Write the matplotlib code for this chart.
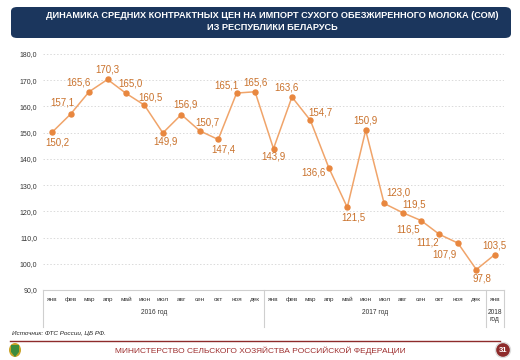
import matplotlib
matplotlib.use("Agg")
import matplotlib.pyplot as plt
from matplotlib.patches import FancyBboxPatch, Polygon, Ellipse
from matplotlib.lines import Line2D
from matplotlib.transforms import blended_transform_factory

plt.rcParams['font.family'] = ['Liberation Sans', 'DejaVu Sans']

months = ["янв", "фев", "мар", "апр", "май", "июн", "июл", "авг", "сен", "окт", "ноя", "дек"]
categories = months + months + ["янв"]
years = ["2016 год", "2017 год", "2018\nгод"]
prices = [150.2, 157.1, 165.6, 170.3, 165.0, 160.5, 149.9, 156.9, 150.7, 147.4, 165.1, 165.6,
          143.9, 163.6, 154.7, 136.6, 121.5, 150.9, 123.0, 119.5, 116.5, 111.2, 107.9, 97.8,
          103.5]
# label offsets in pixels (dx, dy) — placement only
label_offsets = [(5, -10), (-8, 12), (-11, 9), (0, 10), (4, 10), (6, 8), (3, -9), (4, 10),
                 (8, 8), (5, -10), (-10, 8), (0, 9), (0, -8), (-5, 10), (10, 8), (-15, -5),
                 (6, -10), (0, 10), (14, 11), (11, 8), (-13, -9), (-12, -8), (-13, -11),
                 (6, -9), (0, 9)]

W, H = 520, 360
fig = plt.figure(figsize=(W / 100, H / 100), dpi=100)
fig.patch.set_facecolor("white")


def fx(x):
    return x / W


def fy(y):
    return 1 - y / H


# header
hdr = FancyBboxPatch((fx(11), fy(38)), fx(500), (31) / H,
                     boxstyle="round,pad=0,rounding_size=0.012",
                     transform=fig.transFigure, facecolor="#1B365D", edgecolor="none")
fig.patches.append(hdr)
fig.text(fx(272), fy(16), "ДИНАМИКА СРЕДНИХ КОНТРАКТНЫХ ЦЕН НА ИМПОРТ СУХОГО ОБЕЗЖИРЕННОГО МОЛОКА (СОМ)",
         color="white", fontsize=6.6, fontweight="bold", ha="center", va="center")
fig.text(fx(272), fy(28), "ИЗ РЕСПУБЛИКИ БЕЛАРУСЬ",
         color="white", fontsize=6.6, fontweight="bold", ha="center", va="center")

# axes
ax = fig.add_axes([fx(43), fy(290), (504 - 43) / W, (290 - 54) / H])
x = list(range(len(prices)))
line_color = "#F0A46A"
label_color = "#C9712B"
ax.plot(x, prices, color=line_color, lw=1.1, marker="o", ms=3.6,
        markerfacecolor="#E8873F", markeredgecolor="#E8873F", zorder=3)
ax.set_xlim(-0.5, len(prices) - 0.5)
ax.set_ylim(90, 180)
ax.set_yticks(range(90, 181, 10))
ax.set_yticklabels([f"{v},0" for v in range(90, 181, 10)], fontsize=5, color="#333333")
ax.yaxis.grid(True, color="#DADADA", linestyle=(0, (1.5, 2)), lw=0.7)
ax.set_axisbelow(True)
for s in ["top", "right", "left"]:
    ax.spines[s].set_visible(False)
ax.spines["bottom"].set_color("#CFCFCF")
ax.spines["bottom"].set_linewidth(0.8)
ax.tick_params(axis="y", length=0, pad=4)
ax.set_xticks(x)
ax.set_xticklabels(categories, fontsize=4.6, color="#333333")
ax.tick_params(axis="x", length=0, pad=5)
ax.patch.set_alpha(0)

for xi, (v, (dx, dy)) in enumerate(zip(prices, label_offsets)):
    ax.annotate(f"{v:.1f}".replace(".", ","), (xi, v), xytext=(dx * 0.72, dy * 0.72),
                textcoords="offset points", ha="center", va="center",
                fontsize=7, color=label_color)

# category table structure
tr = blended_transform_factory(ax.transData, fig.transFigure)
for bx in [-0.5, 11.5, 23.5, 24.5]:
    fig.add_artist(Line2D([bx, bx], [fy(290), fy(327)], transform=tr,
                          color="#CFCFCF", lw=0.8))
ax.text(5.5, fy(312), years[0], transform=tr, ha="center", va="center", fontsize=4.8, color="#333333")
ax.text(17.5, fy(312), years[1], transform=tr, ha="center", va="center", fontsize=4.8, color="#333333")
ax.text(24, fy(316), years[2], transform=tr, ha="center", va="center", fontsize=4.8,
        color="#333333", linespacing=1.1)

# source
fig.text(fx(12), fy(333), "Источник: ФТС России, ЦБ РФ.", fontsize=4.6, style="italic",
         color="#222222", ha="left", va="center")

# footer
fig.add_artist(Line2D([fx(10), fx(500)], [fy(341), fy(341)], transform=fig.transFigure,
                      color="#8E2B2B", lw=1.0))
fig.text(fx(260), fy(351), "МИНИСТЕРСТВО СЕЛЬСКОГО ХОЗЯЙСТВА РОССИЙСКОЙ ФЕДЕРАЦИИ",
         fontsize=6, color="#9E2F2F", ha="center", va="center")
circ = Ellipse((fx(503), fy(350)), 15 / W, 15 / H, transform=fig.transFigure,
               facecolor="#8E2B2B", edgecolor="#DDDDDD", lw=1)
fig.add_artist(circ)
fig.text(fx(503), fy(350), "31", fontsize=5.5, color="white", fontweight="bold",
         ha="center", va="center")

# logo (simple emblem)
logo = Ellipse((fx(15), fy(350)), 12 / W, 14 / H, transform=fig.transFigure,
               facecolor="#C9A227", edgecolor="none")
fig.add_artist(logo)
shield = Polygon([(fx(11), fy(345)), (fx(19), fy(345)), (fx(19), fy(352)), (fx(15), fy(357)),
                  (fx(11), fy(352))], closed=True, transform=fig.transFigure,
                 facecolor="#3C8C3C", edgecolor="none")
fig.add_artist(shield)

fig.savefig("out.png", dpi=100, facecolor="white")
